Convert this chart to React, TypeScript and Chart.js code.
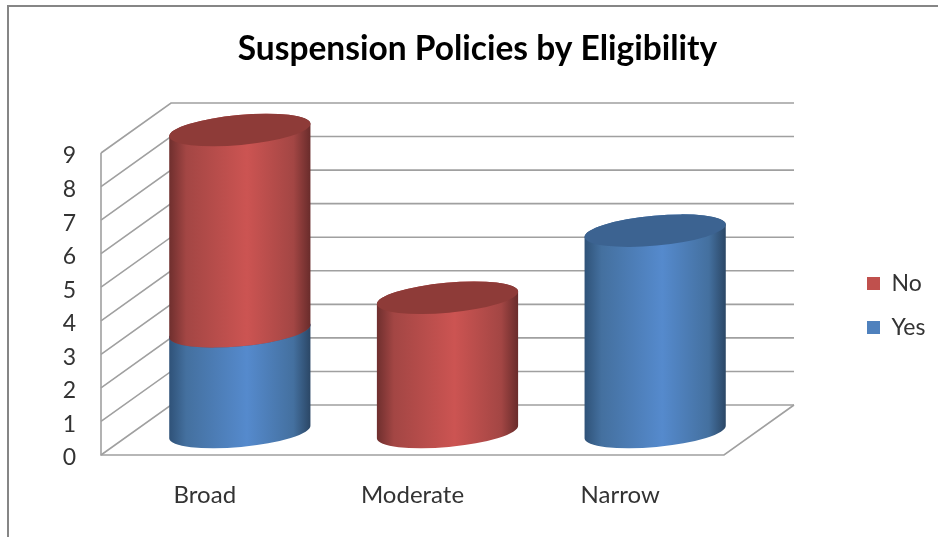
import React, { useEffect, useRef } from "react";
import { Chart, registerables } from "chart.js";

Chart.register(...registerables);

const categories = ["Broad", "Moderate", "Narrow"];
const yesValues = [3, 0, 6];
const noValues = [6, 4, 0];
const yTicks = [0, 1, 2, 3, 4, 5, 6, 7, 8, 9];

const DEPTH_X = 70;
const DEPTH_Y = -50;
const CYL_DY = -23;
const GRID = "#a0a0a0";

const palette: Record<string, { legend: string; edge: string; edgeR: string; side: string; mid: string; cap: string }> = {
  Yes: { legend: "#4f81bd", edge: "#2f5278", edgeR: "#2b4766", side: "#44709f", mid: "#558acd", cap: "#3c6391" },
  No: { legend: "#c0504d", edge: "#6f2f2e", edgeR: "#692c2b", side: "#a34644", mid: "#cc5452", cap: "#8e3b38" },
};

const wall3d = {
  id: "wall3d",
  beforeDraw(chart: any) {
    const c = chart.ctx;
    c.save();
    c.strokeStyle = "#868686";
    c.lineWidth = 2;
    c.beginPath();
    c.moveTo(938, 6);
    c.lineTo(8, 6);
    c.lineTo(8, 537);
    c.stroke();
    c.restore();
  },
  afterLayout(chart: any) {
    const lg = chart.legend;
    if (!lg) return;
    lg.left = 846;
    lg.right = 846 + lg.width;
    lg.top = 251;
    lg.bottom = 251 + lg.height;
  },
  beforeDatasetsDraw(chart: any) {
    const c = chart.ctx;
    const y = chart.scales.y;
    const { left, right } = chart.chartArea;
    c.save();
    c.strokeStyle = GRID;
    c.lineWidth = 1.6;
    yTicks.forEach((t) => {
      const py = y.getPixelForValue(t);
      c.beginPath();
      c.moveTo(left, py);
      c.lineTo(left + DEPTH_X, py + DEPTH_Y);
      c.lineTo(right + DEPTH_X, py + DEPTH_Y);
      c.stroke();
    });
    const y0 = y.getPixelForValue(0);
    const yTop = y.getPixelForValue(yTicks[yTicks.length - 1]);
    c.beginPath();
    c.moveTo(left, yTop);
    c.lineTo(left, y0);
    c.lineTo(right, y0);
    c.lineTo(right + DEPTH_X, y0 + DEPTH_Y);
    c.stroke();

    const tilt = Math.atan(13 / 141);
    const ry = 15;
    chart.data.datasets.forEach((ds: any, di: number) => {
      const colors = palette[ds.label];
      chart.getDatasetMeta(di).data.forEach((bar: any, i: number) => {
        if (!ds.data[i]) return;
        const cx = bar.x + DEPTH_X / 2;
        const half = bar.width / 2;
        const rx = half / Math.cos(tilt);
        const top = bar.y + CYL_DY;
        const bottom = bar.base + CYL_DY;
        const g = c.createLinearGradient(cx - half, 0, cx + half, 0);
        g.addColorStop(0, colors.edge);
        g.addColorStop(0.12, colors.side);
        g.addColorStop(0.55, colors.mid);
        g.addColorStop(0.88, colors.side);
        g.addColorStop(1, colors.edgeR);
        c.fillStyle = g;
        c.beginPath();
        c.ellipse(cx, bottom, rx, ry, -tilt, 0, Math.PI);
        c.ellipse(cx, top, rx, ry, -tilt, Math.PI, Math.PI * 2);
        c.closePath();
        c.fill();
        c.fillStyle = colors.cap;
        c.beginPath();
        c.ellipse(cx, top, rx, ry, -tilt, 0, Math.PI * 2);
        c.fill();
      });
    });
    c.restore();
    return false;
  },
};

export default function App() {
  const ref = useRef<HTMLCanvasElement>(null);
  useEffect(() => {
    document.body.style.margin = "0";
    const chart = new Chart(ref.current as HTMLCanvasElement, {
      type: "bar",
      data: {
        labels: categories,
        datasets: [
          { label: "Yes", data: yesValues, backgroundColor: palette.Yes.legend },
          { label: "No", data: noValues, backgroundColor: palette.No.legend },
        ],
      },
      plugins: [wall3d],
      options: {
        animation: false,
        responsive: false,
        layout: { padding: { left: 17, right: 0, top: 0, bottom: 0 } },
        datasets: { bar: { categoryPercentage: 1, barPercentage: 0.68 } },
        plugins: {
          tooltip: { enabled: false },
          title: {
            display: true,
            text: "Suspension Policies by Eligibility",
            color: "#000000",
            font: { family: "Lato", size: 33.5, weight: "bold", lineHeight: 1.2 },
            padding: { top: 29, bottom: 83.8 },
          },
          legend: {
            position: "chartArea",
            align: "start",
            reverse: true,
            labels: {
              boxWidth: 13,
              boxHeight: 13,
              padding: 21,
              color: "#333333",
              font: { family: "Lato", size: 23 },
            },
          },
        },
        scales: {
          x: {
            stacked: true,
            grid: { display: false },
            border: { display: false },
            ticks: { color: "#333333", padding: 18, font: { family: "Lato", size: 24 } },
            afterFit: (s: any) => { s.height = 82; },
          },
          y: {
            stacked: true,
            min: 0,
            max: 9,
            grid: { display: false },
            border: { display: false },
            ticks: { stepSize: 1, color: "#333333", padding: 17, labelOffset: 3, font: { family: "Lato", size: 23 } },
            afterFit: (s: any) => { s.width = 84; },
          },
          legendSpace: {
            type: "linear",
            position: "right",
            grid: { display: false },
            border: { display: false },
            ticks: { display: false },
            afterFit: (s: any) => { s.width = 214; },
          },
        },
      } as any,
    });
    return () => chart.destroy();
  }, []);
  return <canvas ref={ref} width={938} height={537} style={{ display: "block" }} />;
}
